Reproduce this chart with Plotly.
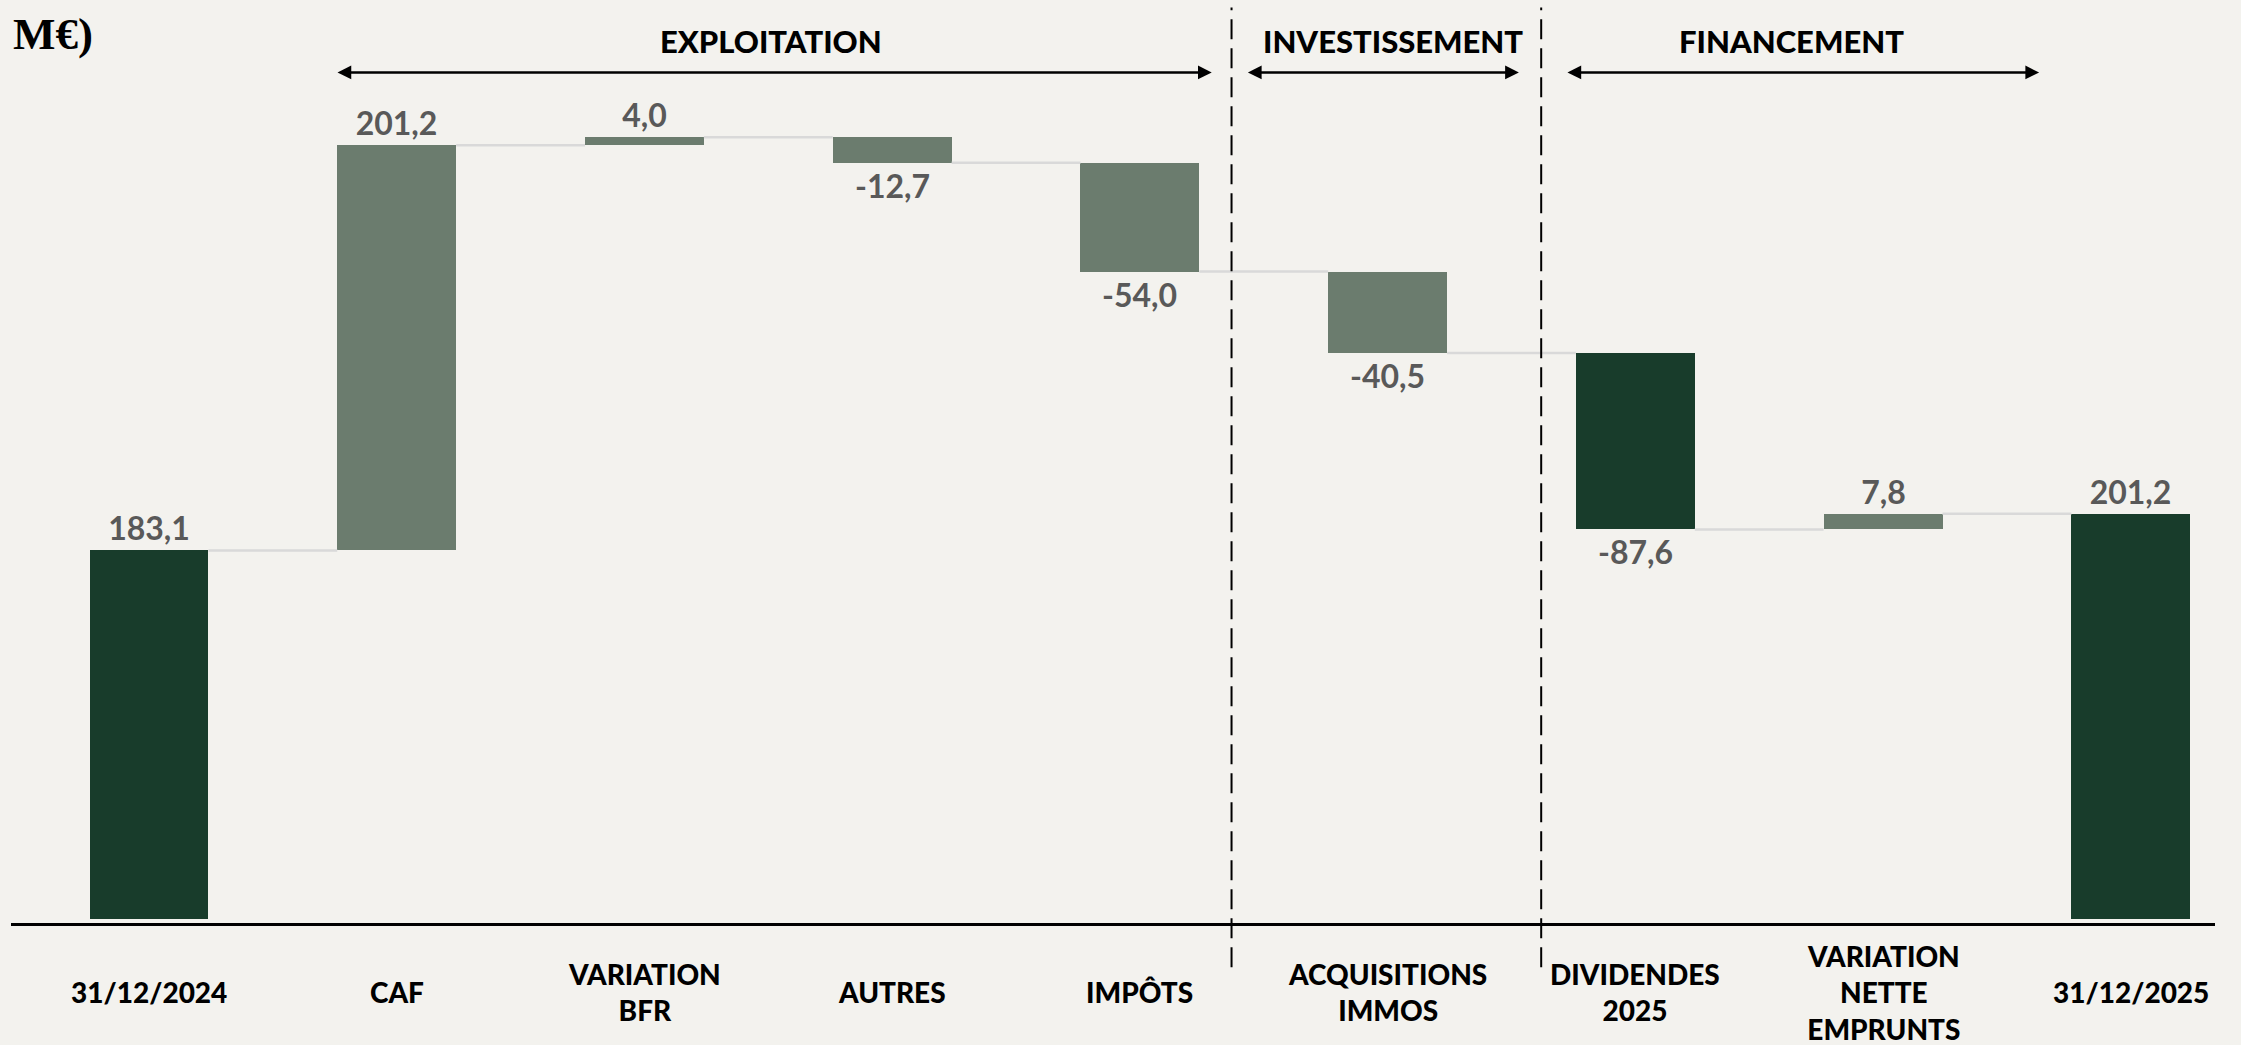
import plotly.graph_objects as go

# ---- data ----
categories = ["31/12/2024", "CAF", "VARIATION<br>BFR", "AUTRES", "IMPÔTS",
              "ACQUISITIONS<br>IMMOS", "DIVIDENDES<br>2025", "VARIATION<br>NETTE<br>EMPRUNTS", "31/12/2025"]
values = [183.1, 201.2, 4.0, -12.7, -54.0, -40.5, -87.6, 7.8, 201.2]
measures = ["total", "relative", "relative", "relative", "relative", "relative", "relative", "relative", "total"]
section_titles = ["EXPLOITATION", "INVESTISSEMENT", "FINANCEMENT"]
unit_label = "M€)"

# ---- styles ----
DARK = "#183c2b"
MID = "#6b7c6e"
BG = "#f3f2ee"
bar_colors = [DARK, MID, MID, MID, MID, MID, DARK, MID, DARK]
LABEL_FONT = "Lato, 'Open Sans', sans-serif"

# ---- waterfall geometry from data ----
bases, ends = [], []
running = 0.0
for v, m in zip(values, measures):
    if m == "total":
        bases.append(0.0)
        running = v
    else:
        bases.append(running)
        running = running + v
    ends.append(running)

xs = list(range(len(categories)))
bar_w = 0.48
texts = [f"{v:.1f}".replace(".", ",") for v in values]

fig = go.Figure()
fig.add_trace(go.Bar(
    x=xs, y=values, base=bases, width=bar_w,
    marker=dict(color=bar_colors, line=dict(width=0)),
    text=texts, textposition="outside",
    outsidetextfont=dict(family=LABEL_FONT, size=32, color="#595959", weight="bold"),
    cliponaxis=False, showlegend=False, hoverinfo="skip",
))

# connectors
for i in range(len(categories) - 1):
    fig.add_trace(go.Scatter(
        x=[i + bar_w / 2, i + 1 - bar_w / 2], y=[ends[i], ends[i]],
        mode="lines", line=dict(color="#d9d9d9", width=2.5),
        showlegend=False, hoverinfo="skip",
    ))

annotations = []
# category labels
for i, c in enumerate(categories):
    annotations.append(dict(
        x=i, y=-0.075, xref="x", yref="paper", text=c, showarrow=False,
        xanchor="center", yanchor="middle", align="center",
        font=dict(family=LABEL_FONT, size=28, color="#000000", weight=900),
    ))

# section headers and arrows
header_x = [2.51, 5.02, 6.63]
arrow_spans = [(0.755, 4.29), (4.43, 5.53), (5.72, 7.63)]
for title, hx, (a0, a1) in zip(section_titles, header_x, arrow_spans):
    annotations.append(dict(
        x=hx, y=436, xref="x", yref="y", text=title, showarrow=False,
        xanchor="center", yanchor="middle",
        font=dict(family=LABEL_FONT, size=31, color="#000000", weight=900),
    ))
    annotations.append(dict(
        x=a1, y=420.5, ax=a0, ay=420.5, xref="x", yref="y", axref="x", ayref="y",
        text="", showarrow=True, arrowhead=2, arrowside="end+start",
        arrowsize=1.1, arrowwidth=2.5, arrowcolor="#000000",
    ))

annotations.append(dict(
    x=0.0, y=0.963, xref="paper", yref="paper", text="<b>" + unit_label + "</b>",
    showarrow=False, xanchor="left", yanchor="middle",
    font=dict(family="'Liberation Serif', 'DejaVu Serif', serif", size=45, color="#000000"),
))

shapes = []
for dx in [4.37, 5.62]:
    shapes.append(dict(
        type="line", xref="x", yref="paper", x0=dx, x1=dx, y0=-0.048, y1=0.992,
        line=dict(color="#000000", width=2, dash="20px,9px"),
    ))

fig.update_layout(
    width=2241, height=1045,
    margin=dict(l=11, r=26, t=0, b=122),
    paper_bgcolor=BG, plot_bgcolor=BG,
    xaxis=dict(range=[-0.557, 8.34], showticklabels=False, showgrid=False, zeroline=False,
               showline=True, linecolor="#000000", linewidth=2.5, ticks=""),
    yaxis=dict(range=[-2, 456.5], visible=False, showgrid=False, zeroline=False),
    annotations=annotations, shapes=shapes,
    bargap=0, showlegend=False,
)

fig.write_html(
    "out.html",
    config={"displayModeBar": False},
    post_script="document.body.style.margin='0';document.body.style.overflow='hidden';"
                "document.body.style.background='" + BG + "';",
)
